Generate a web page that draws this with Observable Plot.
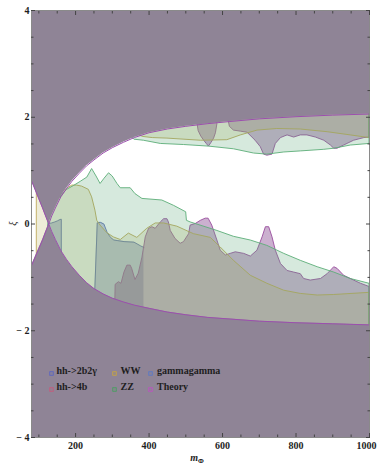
<!DOCTYPE html>
<html>
<head>
<meta charset="utf-8">
<script src="https://cdn.jsdelivr.net/npm/d3@7"></script>
<script src="https://cdn.jsdelivr.net/npm/@observablehq/plot@0.6"></script>
<style>
  body { margin: 0; background: #fff; }
  #chart { width: 377px; height: 466px; }
</style>
</head>
<body>
<div id="chart"></div>
<script>
// Theory bounds: two branches that cross at ξ = 0 near m ≈ 127
const theoryM = [80, 90, 100, 110, 120, 127, 135, 145, 160, 175, 190, 210, 230, 250, 275, 300, 330, 360, 400, 450, 500, 560, 620, 700, 800, 900, 1000];
const theoryA = [0.81, 0.64, 0.47, 0.30, 0.12, 0, -0.14, -0.29, -0.50, -0.66, -0.80, -0.96, -1.10, -1.21, -1.31, -1.39, -1.46, -1.52, -1.58, -1.65, -1.70, -1.75, -1.78, -1.82, -1.85, -1.87, -1.89];
const theoryB = [-0.78, -0.62, -0.46, -0.30, -0.12, 0, 0.15, 0.30, 0.51, 0.66, 0.80, 0.95, 1.09, 1.20, 1.33, 1.43, 1.53, 1.62, 1.71, 1.78, 1.83, 1.88, 1.92, 1.97, 2.01, 2.04, 2.06];

// Excluded below each edge  [m, ξ]
const gammaLowerEdge = [[127, 0], [136, 0.01], [145, 0.03], [152, 0.05], [159, 0.075], [162.5, 0.08]];
const hh2b2gLowerEdge = [[252, -1.3], [259, 0.02], [263, 0.03], [268, 0.03], [277, 0.0], [286, -0.16], [295, -0.25], [304, -0.30], [313, -0.31], [332, -0.33], [359, -0.34], [377, -0.41], [386, -0.44]];
const hh4bLowerEdge = [[308, -1.5], [309, -1.14], [318, -1.09], [325, -1.12], [333, -0.91], [341, -0.78], [350, -0.78], [354, -0.84], [363, -1.05], [372, -0.93], [382, -0.63], [391, -0.25], [400, -0.09], [409, -0.06], [418, -0.09], [432, 0.03], [441, 0.09], [450, 0.09], [454, 0.03], [459, -0.13], [472, -0.28], [486, -0.37], [495, -0.34], [509, -0.19], [513, -0.03], [527, 0.0], [541, 0.06], [554, 0.10], [562, 0.10], [572, -0.03], [586, -0.31], [595, -0.50], [609, -0.59], [622, -0.56], [636, -0.53], [659, -0.56], [677, -0.61], [695, -0.50], [709, -0.25], [718, -0.06], [727, -0.06], [736, -0.25], [745, -0.50], [759, -0.75], [777, -0.88], [795, -0.91], [813, -0.94], [822, -1.03], [840, -1.06], [868, -1.03], [886, -0.94], [904, -0.81], [913, -0.84], [931, -0.97], [958, -1.06], [977, -1.12], [1000, -1.18]];
const wwLowerEdge = [[95.5, 3], [158, 3], [159, 0.49], [177, 0.66], [191, 0.72], [204, 0.72], [218, 0.70], [236, 0.64], [245, 0.50], [254, 0.25], [259, 0.06], [268, -0.03], [286, -0.17], [304, -0.25], [323, -0.30], [345, -0.18], [368, -0.26], [395, -0.09], [418, 0.01], [441, 0.01], [477, -0.05], [522, -0.19], [568, -0.26], [595, -0.44], [631, -0.69], [677, -0.97], [722, -1.12], [768, -1.25], [813, -1.31], [859, -1.34], [904, -1.33], [1000, -1.29]];
const zzLowerEdge = [[127, 3], [158, 3], [159, 0.49], [166, 0.56], [177, 0.64], [195, 0.71], [214, 0.79], [232, 0.87], [245, 1.03], [257, 0.89], [268, 0.75], [279, 0.85], [291, 0.95], [301, 0.89], [314, 0.75], [323, 0.67], [350, 0.67], [363, 0.56], [382, 0.47], [436, 0.44], [468, 0.34], [501, 0.22], [503, 0.06], [513, 0.03], [586, -0.13], [631, -0.24], [677, -0.31], [722, -0.41], [768, -0.56], [813, -0.69], [859, -0.81], [904, -0.91], [949, -1.03], [1000, -1.12]];

// Excluded above each edge  [m, ξ]
const hh4bUpperEdge = [[500, 2.6], [531, 2.6], [532, 1.87], [535, 1.74], [542, 1.64], [550, 1.56], [557, 1.50], [563, 1.45], [570, 1.52], [577, 1.60], [582, 1.70], [586, 1.87], [587, 2.6], [616, 2.6], [617, 1.92], [620, 1.82], [631, 1.75], [650, 1.73], [668, 1.71], [690, 1.56], [704, 1.44], [713, 1.30], [722, 1.28], [736, 1.30], [745, 1.50], [759, 1.61], [777, 1.66], [795, 1.62], [813, 1.66], [831, 1.66], [854, 1.62], [877, 1.56], [895, 1.47], [904, 1.41], [913, 1.41], [931, 1.47], [958, 1.56], [986, 1.61], [1000, 1.62]];
const wwUpperEdge = [[360, 1.75], [372, 1.66], [385, 1.63], [410, 1.61], [450, 1.60], [541, 1.56], [613, 1.57], [650, 1.66], [695, 1.75], [749, 1.78], [813, 1.77], [886, 1.72], [949, 1.66], [1000, 1.61]];
const zzUpperEdge = [[350, 1.65], [360, 1.58], [386, 1.56], [432, 1.50], [495, 1.48], [563, 1.45], [631, 1.40], [686, 1.32], [722, 1.30], [768, 1.34], [813, 1.36], [877, 1.39], [904, 1.41], [949, 1.47], [1000, 1.50]];

// Axis ticks
const xMajorTicks = [200, 400, 600, 800, 1000];
const xMinorTicks = [100, 150, 250, 300, 350, 450, 500, 550, 650, 700, 750, 850, 900, 950];
const yMajorTicks = [-4, -2, 0, 2, 4];
const yMinorTicks = [-3.5, -3, -2.5, -1.5, -1, -0.5, 0.5, 1, 1.5, 2.5, 3, 3.5];

// Legend
const legendLabels = ["hh->2b2γ", "hh->4b", "WW", "ZZ", "gammagamma", "Theory"];
const legendColors = ["#5a64c4", "#c85a7c", "#c9a640", "#48a060", "#5a7ac8", "#c050c4"];

const style = {
  gamma:  {fill: "#3a44a0", fillOpacity: 0.3,  stroke: "#5a68b0"},
  hh2b2g: {fill: "#3a44a0", fillOpacity: 0.3,  stroke: "#5a68b0"},
  hh4b:   {fill: "#752f82", fillOpacity: 0.38, stroke: "#9a4e9e"},
  ww:     {fill: "#bbb363", fillOpacity: 0.25, stroke: "#bca656"},
  zz:     {fill: "#5ba777", fillOpacity: 0.25, stroke: "#5cae78"},
  theory: {fill: "#8f8496", stroke: "#9c4fae"}
};

const FLOOR = -5, CEIL = 5;
const rows = pts => pts.map(([m, xi]) => ({m, xi}));
const theoryRows = theoryM.map((m, i) => ({
  m, a: theoryA[i], b: theoryB[i],
  lo: Math.min(theoryA[i], theoryB[i]),
  hi: Math.max(theoryA[i], theoryB[i])
}));

const below = (pts, s, withStroke = true) => Plot.areaY(rows(pts), {
  x: "m", y1: FLOOR, y2: "xi", fill: s.fill, fillOpacity: s.fillOpacity,
  stroke: withStroke ? s.stroke : "none", strokeWidth: 0.9, clip: true
});
const above = (pts, s) => Plot.areaY(rows(pts), {
  x: "m", y1: "xi", y2: CEIL, fill: s.fill, fillOpacity: s.fillOpacity,
  stroke: s.stroke, strokeWidth: 0.9, clip: true
});

// legend layout: two rows, three columns
const colSquare = [20, 83, 119], colText = [25, 89, 125.5], rowDy = [-64, -48];
const legendMarks = legendLabels.flatMap((label, i) => {
  const c = Math.floor(i / 2), r = i % 2;
  return [
    Plot.dot([label], {frameAnchor: "bottom-left", dx: colSquare[c], dy: rowDy[r], symbol: "square", r: 2.1, stroke: legendColors[i], strokeWidth: 0.8, fill: legendColors[i], fillOpacity: 0.15}),
    Plot.text([label], {frameAnchor: "bottom-left", dx: colText[c], dy: rowDy[r], text: d => d, textAnchor: "start", fill: "#1e1e1e", fontSize: 10, fontWeight: "bold"})
  ];
});

const tickColor = "#444";
const chart = Plot.plot({
  width: 377, height: 466,
  marginLeft: 31, marginRight: 8, marginTop: 10, marginBottom: 29,
  x: {domain: [80, 1000]},
  y: {domain: [-4, 4]},
  style: {fontFamily: "'Liberation Serif', 'Times New Roman', serif", fontSize: "10px", fontWeight: "bold", background: "#fff", color: "#1e1e1e"},
  marks: [
    below(gammaLowerEdge, style.gamma),
    below(hh2b2gLowerEdge, style.hh2b2g, false),
    Plot.line(rows(hh2b2gLowerEdge), {x: "m", y: "xi", stroke: style.hh2b2g.stroke, strokeWidth: 0.9, clip: true}),
    below(hh4bLowerEdge, style.hh4b),
    above(hh4bUpperEdge, style.hh4b),
    below(wwLowerEdge, style.ww),
    above(wwUpperEdge, style.ww),
    below(zzLowerEdge, style.zz),
    above(zzUpperEdge, style.zz),
    // theoretically excluded region
    Plot.areaY(theoryRows, {x: "m", y1: FLOOR, y2: "lo", fill: style.theory.fill, clip: true}),
    Plot.areaY(theoryRows, {x: "m", y1: "hi", y2: CEIL, fill: style.theory.fill, clip: true}),
    Plot.line(theoryRows, {x: "m", y: "a", stroke: style.theory.stroke, strokeWidth: 1, clip: true}),
    Plot.line(theoryRows, {x: "m", y: "b", stroke: style.theory.stroke, strokeWidth: 1, clip: true}),
    ...legendMarks,
    Plot.frame({stroke: "#8a8a8a", strokeWidth: 1}),
    // inward frame ticks
    Plot.axisX({anchor: "bottom", ticks: xMajorTicks, tickSize: -4, text: null, label: null, stroke: tickColor}),
    Plot.axisX({anchor: "bottom", ticks: xMinorTicks, tickSize: -2.5, text: null, label: null, stroke: tickColor}),
    Plot.axisX({anchor: "top", ticks: xMajorTicks, tickSize: -4, text: null, label: null, stroke: tickColor}),
    Plot.axisX({anchor: "top", ticks: xMinorTicks, tickSize: -2.5, text: null, label: null, stroke: tickColor}),
    Plot.axisY({anchor: "left", ticks: yMajorTicks, tickSize: -4, text: null, label: null, stroke: tickColor}),
    Plot.axisY({anchor: "left", ticks: yMinorTicks, tickSize: -2.5, text: null, label: null, stroke: tickColor}),
    Plot.axisY({anchor: "right", ticks: yMajorTicks, tickSize: -4, text: null, label: null, stroke: tickColor}),
    Plot.axisY({anchor: "right", ticks: yMinorTicks, tickSize: -2.5, text: null, label: null, stroke: tickColor}),
    // tick labels (the last one nudged in so it stays on the page)
    Plot.axisX({anchor: "bottom", ticks: xMajorTicks.slice(0, -1), tickSize: 0, tickPadding: 4, label: null, tickFormat: d => `${d}`}),
    Plot.axisX({anchor: "bottom", ticks: xMajorTicks.slice(-1), tickSize: 0, tickPadding: 4, label: null, dx: -3, tickFormat: d => `${d}`}),
    Plot.axisY({anchor: "left", ticks: yMajorTicks, tickSize: 0, tickPadding: 2, label: null, tickFormat: d => d < 0 ? `− ${-d}` : `${d}`})
  ]
});

document.getElementById("chart").appendChild(chart);

// axis titles
const svg = d3.select(chart);
const W = 377, H = 466, mL = 31, mR = 8, mT = 10, mB = 29;
const xt = svg.append("text")
  .attr("x", mL + (W - mL - mR) / 2 - 3)
  .attr("y", H - 5)
  .attr("text-anchor", "middle")
  .attr("font-size", 10)
  .attr("font-weight", "bold")
  .attr("fill", "#1e1e1e");
xt.append("tspan").attr("font-style", "italic").text("m");
xt.append("tspan").attr("font-size", 7).attr("dy", 2).text("Φ");

svg.append("text")
  .attr("transform", `translate(12,${mT + (H - mT - mB) / 2}) rotate(-90)`)
  .attr("text-anchor", "middle")
  .attr("dy", "0.35em")
  .attr("font-size", 10)
  .attr("font-style", "italic")
  .attr("font-weight", "normal")
  .attr("fill", "#1e1e1e")
  .text("ξ");
</script>
</body>
</html>
